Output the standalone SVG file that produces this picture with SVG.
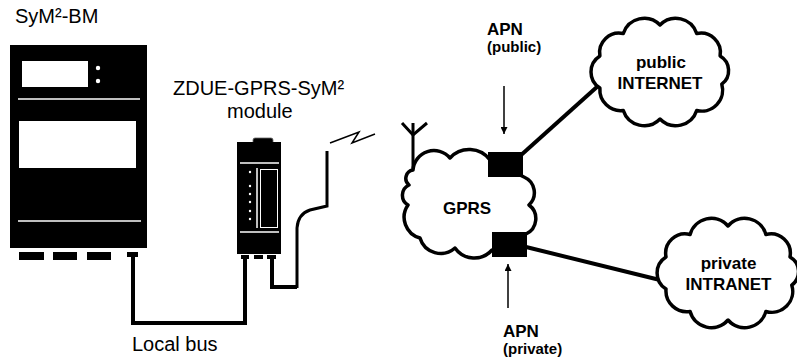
<svg xmlns="http://www.w3.org/2000/svg" width="797" height="359" viewBox="0 0 797 359">
  <style>
    .lbl { font-family: "Liberation Sans", Arial, sans-serif; font-size: 20px; fill: #000; }
    .bold { font-family: "Liberation Sans", Arial, sans-serif; font-weight: bold; fill: #000; }
    .cable { fill: none; stroke: #000; stroke-width: 4; stroke-linejoin: miter; }
    .wire { fill: none; stroke: #000; stroke-width: 3; }
    .cloud { fill: #fff; stroke: #000; stroke-width: 3.5; stroke-linejoin: round; }
    .thin { fill: none; stroke: #000; stroke-width: 1.5; }
    .wline { stroke: #fff; stroke-width: 1.5; }
  </style>
  <defs>
    <marker id="arrow" viewBox="0 0 10 10" refX="10" refY="5" markerWidth="7" markerHeight="7" markerUnits="userSpaceOnUse" orient="auto">
      <path d="M0,0 L10,5 L0,10 Z" fill="#000"/>
    </marker>
  </defs>

  <!-- connectors -->
  <g id="connectors">
    <!-- local bus between meter and module -->
    <polyline class="cable" points="133,257 133,323 245,323 245,259"/>
    <!-- module to antenna cable -->
    <polyline class="cable" points="272,259 272,287 297,287"/>
    <path class="wire" d="M297,288 L297,228 Q298,214 310,210 L327,206 L327,151"/>
    <!-- radio link -->
    <polyline class="thin" points="330,143 359,132 352,143 375,134"/>
    <!-- links to the outer networks -->
    <line x1="520" y1="156" x2="598" y2="86" stroke="#000" stroke-width="4"/>
    <line x1="522" y1="246" x2="664" y2="281" stroke="#000" stroke-width="4"/>
    <!-- antenna -->
    <polyline class="wire" points="413,172 413,123"/>
    <polyline class="wire" points="402,123 413,135 427,123"/>
    <!-- APN pointers -->
    <line class="thin" x1="504" y1="86" x2="504" y2="134" marker-end="url(#arrow)"/>
    <line class="thin" x1="508" y1="308" x2="508" y2="264" marker-end="url(#arrow)"/>
  </g>

  <!-- base meter -->
  <g id="sym-bm">
    <text class="lbl" x="15" y="23">SyM²-BM</text>
    <rect x="10" y="45" width="137" height="203" fill="#000"/>
    <rect x="22" y="61" width="66" height="26" fill="#fff"/>
    <circle cx="98" cy="68" r="2.2" fill="#fff"/>
    <circle cx="98" cy="81" r="2.2" fill="#fff"/>
    <line class="wline" x1="18" y1="99" x2="140" y2="99"/>
    <rect x="19" y="121" width="117" height="47" fill="#fff"/>
    <line class="wline" x1="18" y1="221" x2="141" y2="221"/>
    <rect x="19" y="252" width="25" height="8" fill="#000"/>
    <rect x="53" y="252" width="24" height="8" fill="#000"/>
    <rect x="87" y="252" width="24" height="8" fill="#000"/>
    <rect x="127" y="252" width="11" height="5" fill="#000"/>
  </g>

  <!-- GPRS module -->
  <g id="module">
    <text class="lbl" x="173" y="95">ZDUE-GPRS-SyM²</text>
    <text class="lbl" x="227" y="118">module</text>
    <rect x="253" y="138" width="20" height="6" rx="2" fill="#000" stroke="#666" stroke-width="0.8"/>
    <rect x="237" y="142" width="44" height="112" fill="#000"/>
    <line class="wline" x1="240" y1="163" x2="279" y2="163"/>
    <line class="wline" x1="240" y1="232" x2="279" y2="232"/>
    <line class="wline" x1="257" y1="168" x2="257" y2="228"/>
    <rect x="260.5" y="169.5" width="17" height="58" fill="none" stroke="#fff" stroke-width="1"/>
    <g fill="#fff">
      <circle cx="250" cy="172" r="1.2"/>
      <circle cx="250" cy="186" r="1.2"/>
      <circle cx="250" cy="194" r="1.2"/>
      <circle cx="250" cy="202" r="1.2"/>
      <circle cx="250" cy="211" r="1.2"/>
      <circle cx="250" cy="219" r="1.2"/>
    </g>
    <rect x="241" y="255" width="8" height="4" fill="#000"/>
    <rect x="254" y="255" width="9" height="4" fill="#000"/>
    <rect x="267" y="255" width="9" height="4" fill="#000"/>
  </g>

  <!-- GPRS network -->
  <g id="gprs">
    <path class="cloud" d="M413,170 A21,21 0 0 1 450,158 A26,26 0 0 1 490,160 L524,177 A17,17 0 0 1 529,205 A17,17 0 0 1 526,234 L492,250 A23.5,23.5 0 0 1 455,248 A21.6,21.6 0 0 1 420,238 A21.5,21.5 0 0 1 408,205 A11.3,11.3 0 0 1 409,185 A8.5,8.5 0 0 1 413,170 Z"/>
    <text class="bold" x="443" y="214" font-size="17">GPRS</text>
  </g>

  <!-- access point, public -->
  <g id="apn-public">
    <text class="bold" x="487" y="35" font-size="17">APN</text>
    <text class="bold" x="487" y="52" font-size="15">(public)</text>
    <rect x="488" y="152" width="35" height="25" fill="#000"/>
  </g>

  <!-- access point, private -->
  <g id="apn-private">
    <rect x="492" y="232" width="35" height="25" fill="#000"/>
    <text class="bold" x="503" y="337" font-size="17">APN</text>
    <text class="bold" x="503" y="354" font-size="15">(private)</text>
  </g>

  <!-- public internet -->
  <g id="internet">
    <path class="cloud" d="M599.9,55.9 A19.5,19.5 0 0 1 623.3,33.5 A22,22 0 0 1 660,25 A22,22 0 0 1 696.7,33.5 A19.5,19.5 0 0 1 720.1,55.9 A17,17 0 0 1 721.8,84.2 A21,21 0 0 1 696.7,110.5 A22,22 0 0 1 660,119 A22,22 0 0 1 623.3,110.5 A21,21 0 0 1 599.9,88.1 A19,19 0 0 1 599.9,55.9 Z"/>
    <text class="bold" x="661" y="68" font-size="17" text-anchor="middle">public</text>
    <text class="bold" x="660" y="89" font-size="17" text-anchor="middle">INTERNET</text>
  </g>

  <!-- private intranet -->
  <g id="intranet">
    <path class="cloud" d="M666,256.9 A19.5,19.5 0 0 1 690.1,234.5 A22,22 0 0 1 728,226 A22,22 0 0 1 765.9,234.5 A19.5,19.5 0 0 1 790,256.9 A17,17 0 0 1 791.8,285.2 A21,21 0 0 1 765.9,311.5 A22,22 0 0 1 728,320 A22,22 0 0 1 690.1,311.5 A21,21 0 0 1 666,289.1 A19,19 0 0 1 666,256.9 Z"/>
    <text class="bold" x="728.5" y="269" font-size="17" text-anchor="middle">private</text>
    <text class="bold" x="728.5" y="290" font-size="17" text-anchor="middle">INTRANET</text>
  </g>

  <text class="lbl" x="132" y="351">Local bus</text>
</svg>
